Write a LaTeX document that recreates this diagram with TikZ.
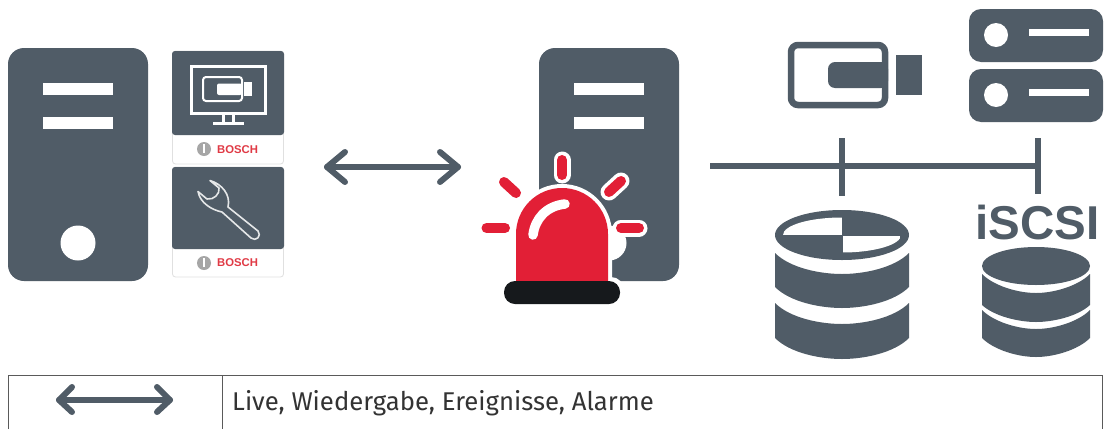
\documentclass[tikz,border=0pt]{standalone}
\usepackage{fontspec}
\setmainfont{Liberation Sans}
\newfontfamily\labelfont{Fira Sans}
\definecolor{slate}{HTML}{505C67}
\definecolor{alarmred}{HTML}{E21F36}
\definecolor{basedark}{HTML}{16191C}
\definecolor{boschred}{HTML}{E03A45}
\definecolor{tableline}{HTML}{5A5A5A}
\tikzset{
  towerbox/.style={fill=slate,rounded corners=16},
  slotbar/.style={fill=white},
  iconline/.style={draw=white,line width=3,fill=none},
  link/.style={draw=slate,line width=6},
  dblarrow/.style={draw=slate,line cap=round,line join=round},
  ray/.style={draw=alarmred,line width=10,line cap=round},
  rayhalo/.style={draw=white,line width=17,line cap=round},
  boschtext/.style={text=boschred,font=\bfseries\fontsize{11.3}{12}\selectfont,inner sep=0pt,anchor=west},
  tabrule/.style={draw=tableline,line width=1},
}
\newcommand{\boschtile}[3]{% top, split, bottom
  \fill[white,draw=black!12,line width=0.8,rounded corners=3] (172.5,#1) rectangle (283.5,#3);
  \fill[slate,rounded corners=3] (172,#1) -- (284,#1) -- (284,#2) -- (172,#2) -- cycle;
}
\begin{document}
\begin{tikzpicture}[x=1pt,y=-1pt]
\useasboundingbox (0,0) rectangle (1111,429);
\fill[white] (0,0) rectangle (1111,429);

% left tower
\fill[towerbox] (8,48) rectangle (148,281);
\fill[slotbar] (43,83) rectangle (113,95);
\fill[slotbar] (43,117) rectangle (113,129);
\fill[white] (78,243) circle (17.5);

% upper tile
\boschtile{51}{135}{164}
\draw[iconline] (191,66) rectangle (265,113);
\draw[iconline,line width=2.4] (223.5,113) -- (223.5,122);
\draw[iconline,line width=2.4] (233.5,113) -- (233.5,122);
\draw[iconline] (213,123) -- (244,123);
\draw[iconline,line width=2,rounded corners=3] (242,77) -- (203,77) -- (203,101) -- (242,101) -- cycle;
\fill[white,rounded corners=2] (217,83.5) rectangle (242,95);
\fill[white] (244,82) rectangle (252,96);
\fill[black!35] (204,149) circle (7);
\fill[white] (203,144) rectangle (205,153);
\node[boschtext] (boschA) at (217,149.5) {BOSCH};

% lower tile
\boschtile{167}{249}{277}
\draw[draw=white!85!slate,line width=1.6,line join=round]
  (210,180.5) .. controls (222,184) and (231,195) .. (228,207)
  -- (258,231) .. controls (262,236) and (256,242) .. (251,238)
  -- (222,212) .. controls (212,210) and (200,203) .. (198,191.5)
  -- (207,199) .. controls (214,200) and (220,194) .. (219,188) -- cycle;
\fill[black!35] (204,263) circle (7);
\fill[white] (203,258) rectangle (205,267);
\node[boschtext] (boschB) at (217,263) {BOSCH};

% big double arrow
\coordinate (arrowL) at (327,167);
\coordinate (arrowR) at (458,167);
\draw[dblarrow,line width=6] (arrowL) -- (arrowR);
\draw[dblarrow,line width=6] (345,152) -- (arrowL) -- (345,182);
\draw[dblarrow,line width=6] (440,152) -- (arrowR) -- (440,182);

% centre tower
\fill[towerbox] (539,48) rectangle (679,281);
\fill[slotbar] (574,83) rectangle (644,95);
\fill[slotbar] (574,117) rectangle (644,129);
\fill[white] (609,243) circle (17.5);

% alarm halo
\draw[rayhalo] (562,160) -- (562,175);
\draw[rayhalo] (609,192) -- (621,181);
\draw[rayhalo] (621,228) -- (639,228);
\fill[white] (512,285) -- (512,234) arc[start angle=180,end angle=360,radius=50] -- (612,285) -- cycle;
\fill[white,rounded corners=13] (500,277) rectangle (624,308);
% alarm
\draw[ray] (562,160) -- (562,175);
\draw[ray] (609,192) -- (621,181);
\draw[ray] (621,228) -- (639,228);
\draw[ray] (486.5,228) -- (505,228);
\draw[ray] (504,182) -- (516,193);
\fill[alarmred] (516,283) -- (516,234) arc[start angle=180,end angle=360,radius=46] -- (608,283) -- cycle;
\draw[white,line width=9.5,line cap=round] (533,235) .. controls (535,219) and (546,206) .. (565,204);
\fill[basedark,rounded corners=11] (504,281) rectangle (620,304);

% network lines
\coordinate (netL) at (710,166);
\coordinate (netR) at (1038,166);
\coordinate (dropAtop) at (842,138);
\coordinate (dropAbot) at (842,196);
\coordinate (dropBtop) at (1038,138);
\coordinate (dropBbot) at (1038,194);
\draw[link] (netL) -- (netR);
\draw[link] (dropAtop) -- (dropAbot);
\draw[link] (dropBtop) -- (dropBbot);

% camera
\draw[slate,line width=6.5,rounded corners=7] (791,45) rectangle (885,105);
\fill[slate,rounded corners=7] (828,62) -- (888,62) -- (888,88) -- (828,88) -- cycle;
\fill[slate] (896,55) rectangle (922,95);

% server rack
\fill[slate,rounded corners=12] (969,9) rectangle (1103,62);
\fill[slate,rounded corners=12] (969,69) rectangle (1103,122);
\fill[white] (996,35) circle (12);
\fill[white] (996,95) circle (12);
\fill[white] (1029,29) rectangle (1089,36);
\fill[white] (1029,89) rectangle (1089,96);

% database 1
\fill[slate] (842,235) ellipse [x radius=67,y radius=25];
\begin{scope}
  \clip (842,235) ellipse [x radius=59,y radius=17.5];
  \fill[white] (783,217) rectangle (841.5,234.5);
  \fill[white] (842.5,235.5) rectangle (901,253);
\end{scope}
\fill[slate] (775,253) .. controls (790,268) and (820,274) .. (842,274) .. controls (864,274) and (894,268) .. (909,253)
  -- (909,287) .. controls (894,302) and (864,308) .. (842,308) .. controls (820,308) and (790,302) .. (775,287) -- cycle;
\fill[slate] (775,303) .. controls (790,318) and (820,324) .. (842,324) .. controls (864,324) and (894,318) .. (909,303)
  -- (909,338) .. controls (894,353) and (864,359) .. (842,359) .. controls (820,359) and (790,353) .. (775,338) -- cycle;

% database 2
\node[text=slate,font=\bfseries\fontsize{47.5}{47.5}\selectfont,inner sep=0pt,anchor=base] (iscsi) at (1037.5,239) {iSCSI};
\fill[slate] (1036,266) ellipse [x radius=54,y radius=19];
\fill[slate] (982,274) .. controls (994,286) and (1018,293) .. (1036,293) .. controls (1054,293) and (1078,286) .. (1090,274)
  -- (1090,305) .. controls (1078,316) and (1054,322) .. (1036,322) .. controls (1018,322) and (994,316) .. (982,305) -- cycle;
\fill[slate] (982,310) .. controls (994,322) and (1018,329) .. (1036,329) .. controls (1054,329) and (1078,322) .. (1090,310)
  -- (1090,338) .. controls (1078,350) and (1054,357) .. (1036,357) .. controls (1018,357) and (994,350) .. (982,338) -- cycle;

% legend table
\draw[tabrule] (8.5,429) -- (8.5,375.5) -- (1102,375.5) -- (1102,429);
\draw[tabrule] (222.5,375.5) -- (222.5,429);
\coordinate (legL) at (59,400);
\coordinate (legR) at (170,400);
\draw[dblarrow,line width=6] (legL) -- (legR);
\draw[dblarrow,line width=6] (72,387) -- (legL) -- (72,412);
\draw[dblarrow,line width=6] (157,387) -- (legR) -- (157,412);
\node[inner sep=0pt,anchor=base west,text=black!80,font=\labelfont\fontsize{25.7}{28}\selectfont] (legendtext) at (232,410) {Live, Wiedergabe, Ereignisse, Alarme};
\end{tikzpicture}
\end{document}
